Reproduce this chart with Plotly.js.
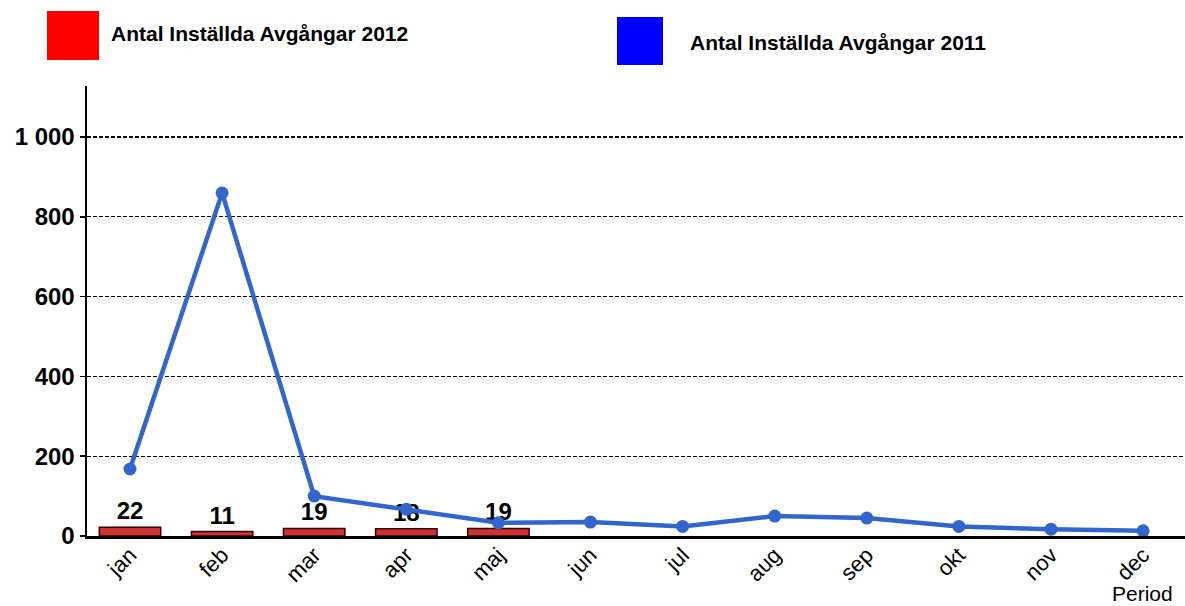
<!DOCTYPE html>
<html>
<head>
<meta charset="utf-8">
<script src="https://cdn.plot.ly/plotly-3.0.1.min.js"></script>
<style>html,body{margin:0;padding:0;background:#fff;}#chart{width:1185px;height:606px;}</style>
</head>
<body>
<div id="chart"></div>
<script>
const months = ['jan','feb','mar','apr','maj','jun','jul','aug','sep','okt','nov','dec'];
const months2012 = ['jan','feb','mar','apr','maj'];
const values2012 = [22, 11, 19, 18, 19];
const values2011 = [168, 860, 100, 67, 33, 35, 24, 50, 45, 24, 17, 13];
const legendLabel2012 = 'Antal Inställda Avgångar 2012';
const legendLabel2011 = 'Antal Inställda Avgångar 2011';
const xAxisTitle = 'Period';
const yTickVals = [0, 200, 400, 600, 800, 1000];

const L = 87, R = 1185, T = 86, B = 536;
const px2x = p => (p - L) / (R - L);
const py2y = p => (B - p) / (B - T);
const FONT = 'Liberation Sans, Arial, sans-serif';

const traces = [
  {
    type: 'bar',
    x: months2012,
    y: values2012,
    width: 0.667,
    marker: {color: '#cc3333', line: {color: '#3a0000', width: 1.5}},
    text: values2012.map(String),
    textposition: 'outside',
    textfont: {family: FONT, size: 24, color: '#000', weight: 'bold'},
    cliponaxis: false,
    showlegend: false,
    hoverinfo: 'x+y'
  },
  {
    type: 'scatter',
    mode: 'lines+markers',
    x: months,
    y: values2011,
    line: {color: '#3366cc', width: 4.5},
    marker: {color: '#3366cc', size: 13},
    cliponaxis: false,
    showlegend: false
  }
];

const layout = {
  width: 1185, height: 606,
  margin: {l: L, r: 1185 - R, t: T, b: 606 - B, pad: 0},
  paper_bgcolor: '#fff', plot_bgcolor: '#fff',
  separators: ', ',
  font: {family: FONT, color: '#000'},
  showlegend: false,
  xaxis: {
    type: 'category',
    categoryorder: 'array',
    categoryarray: months,
    range: [-0.467, 11.455],
    showline: true, linecolor: '#000', linewidth: 2.5,
    showgrid: false, zeroline: false,
    ticks: '',
    tickangle: -45,
    ticklabelstandoff: -5,
    tickfont: {family: FONT, size: 22, color: '#000'}
  },
  yaxis: {
    range: [0, 1128],
    tickvals: yTickVals,
    tickformat: ',d',
    showline: true, linecolor: '#000', linewidth: 2.5,
    showgrid: true, gridcolor: '#000', gridwidth: 1.2, griddash: '4px,2px',
    zeroline: false,
    ticks: 'outside', ticklen: 5, tickwidth: 1.5, tickcolor: '#000',
    tickfont: {family: FONT, size: 24, color: '#000', weight: 'bold'}
  },
  shapes: [
    {type: 'rect', xref: 'paper', yref: 'paper', x0: px2x(47), x1: px2x(99), y0: py2y(60), y1: py2y(11), fillcolor: '#ff0000', line: {width: 0}},
    {type: 'rect', xref: 'paper', yref: 'paper', x0: px2x(617), x1: px2x(663), y0: py2y(65), y1: py2y(17), fillcolor: '#0000ff', line: {width: 0}}
  ],
  annotations: [
    {xref: 'paper', yref: 'paper', x: px2x(109), y: py2y(34), xanchor: 'left', yanchor: 'middle', showarrow: false, text: legendLabel2012, font: {family: FONT, size: 21, color: '#000', weight: 'bold'}},
    {xref: 'paper', yref: 'paper', x: px2x(688), y: py2y(42), xanchor: 'left', yanchor: 'middle', showarrow: false, text: legendLabel2011, font: {family: FONT, size: 21, color: '#000', weight: 'bold'}},
    {xref: 'paper', yref: 'paper', x: px2x(1142), y: py2y(606), xanchor: 'center', yanchor: 'bottom', borderpad: 0, showarrow: false, text: xAxisTitle, font: {family: FONT, size: 21, color: '#000'}}
  ]
};

Plotly.newPlot('chart', traces, layout, {displayModeBar: false, staticPlot: true});
</script>
</body>
</html>
